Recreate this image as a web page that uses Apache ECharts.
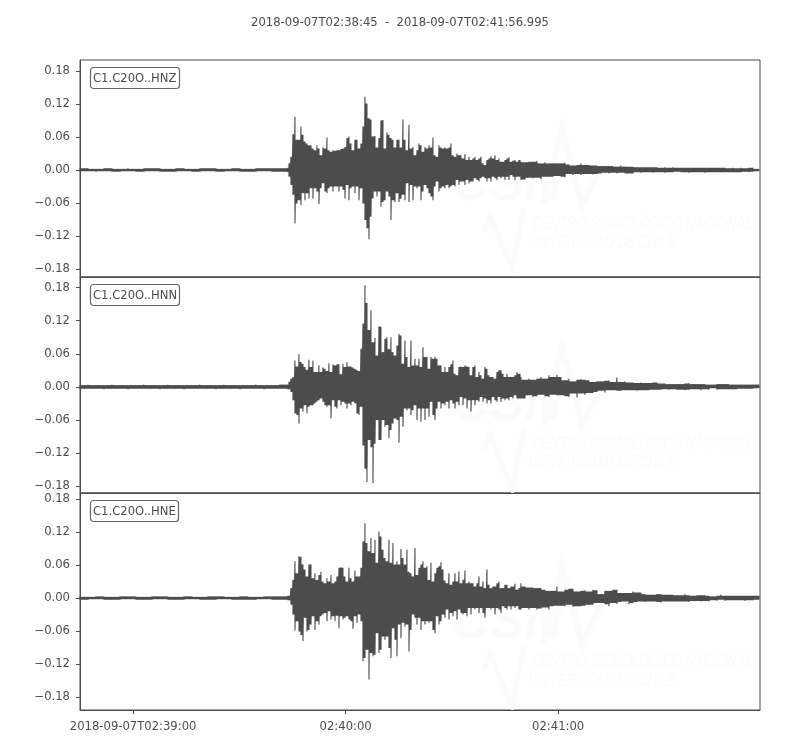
<!DOCTYPE html>
<html>
<head>
<meta charset="utf-8">
<style>html,body{margin:0;padding:0;background:#fff}#c{width:800px;height:750px}</style>
<script src="https://cdn.jsdelivr.net/npm/echarts@6/dist/echarts.min.js"></script>
</head>
<body>
<div id="c"></div>
<script>
// Envelope of each trace in thousandths of the plotted unit
const stations = ['C1.C20O..HNZ', 'C1.C20O..HNN', 'C1.C20O..HNE'];
const titleText = '2018-09-07T02:38:45  -  2018-09-07T02:41:56.995';
const tickSeconds = [15, 75, 135];
const tickLabels = ['2018-09-07T02:39:00', '02:40:00', '02:41:00'];
const yTicks = [-0.18, -0.12, -0.06, 0, 0.06, 0.12, 0.18];
const totalSeconds = 191.995;
const preStep = 2.2586, activeStart = 59.0, activeStep = 0.5647, codaStart = 124.5, codaStep = 1.1293;

const preHiZ = [3,3,2,3,3,2,3,2,3,3,3,2,3,3,2,3,3,3,2,3,3,2,3,3,3,3,4];
const preLoZ = [3,2,3,2,3,3,2,3,3,2,3,3,3,2,3,3,2,3,3,2,3,3,3,2,3,3,4];
const preHiN = [3,4,3,3,4,3,3,3,4,3,3,4,3,3,3,4,3,3,4,3,3,3,4,3,3,4,4];
const preLoN = [4,3,3,4,3,3,4,3,3,3,4,3,3,4,3,3,3,4,3,3,4,3,3,4,3,3,4];
const preHiE = [3,2,3,3,2,3,3,3,2,3,3,3,2,3,3,2,3,3,3,2,3,3,2,3,3,3,4];
const preLoE = [3,3,2,3,3,3,2,3,3,3,2,3,3,3,2,3,3,3,2,3,3,3,3,2,3,3,4];

const activeHiZ = [12,24,65,97,55,55,79,64,52,48,45,45,39,36,45,39,27,41,39,59,36,33,36,35,36,36,38,39,42,58,61,48,36,55,55,39,48,79,133,121,94,92,61,62,41,58,90,91,39,68,64,58,55,41,55,55,41,92,55,36,82,39,42,27,36,48,45,33,42,39,45,41,59,27,24,45,41,39,41,39,41,48,27,24,30,27,27,21,29,18,24,18,21,24,18,21,24,12,9,18,21,25,21,27,18,21,15,15,18,21,23,15,17,18,15,18];
const activeLoZ = [12,27,45,97,61,55,64,42,55,42,52,33,52,33,39,62,33,24,39,42,33,30,39,30,30,39,30,36,52,27,55,33,30,42,30,55,33,61,91,106,126,85,52,39,48,39,67,58,55,39,48,91,55,58,42,58,52,45,55,24,58,27,55,30,33,30,55,39,27,33,42,48,55,30,21,39,33,30,33,27,33,30,27,30,18,27,21,21,27,18,24,21,21,15,18,21,15,12,15,21,15,21,12,15,18,12,15,12,18,12,18,9,12,18,12,12];
const codaHiZ = [15,14,15,15,17,12,14,12,12,12,12,13,10,8,9,12,9,9,8,8,7,7,7,7,6,8,6,6,6,5,5,5,5,5,5,4,5,4,5,4,4,4,4,4,4,4,4,4,4,4,4,4,3,4,3,4,3,4,4,2];
const codaLoZ = [18,17,14,15,14,17,12,12,12,11,12,13,7,9,7,9,7,7,8,7,6,5,6,5,6,5,6,6,6,4,5,4,4,5,4,4,5,4,4,3,4,4,5,4,4,4,5,4,4,4,4,4,4,4,4,4,3,4,3,2];

const activeHiN = [9,15,18,48,37,59,45,42,36,31,49,36,48,27,27,39,27,35,33,29,43,27,41,39,41,41,23,42,36,45,37,37,35,33,31,29,69,115,184,152,103,139,81,89,57,110,109,63,87,90,68,90,63,57,75,96,93,42,84,54,36,84,39,51,39,51,36,72,54,54,33,54,51,54,51,39,39,27,36,27,36,41,48,24,21,36,37,36,39,37,36,21,36,39,18,27,21,15,36,33,21,18,18,15,27,30,30,24,18,24,18,18,18,21,27,24];
const activeLoN = [3,9,24,48,51,66,39,45,33,48,36,33,33,30,27,24,21,27,33,36,33,57,24,36,39,24,33,27,30,39,30,33,27,30,48,51,36,106,148,172,96,109,174,103,60,96,96,60,72,69,93,78,66,57,60,101,54,72,39,42,39,51,42,33,60,39,63,39,60,39,54,27,51,60,39,27,39,30,33,27,39,24,30,39,27,33,18,33,21,39,24,45,24,33,24,27,18,27,21,30,24,30,18,24,27,18,27,21,24,21,24,18,21,15,21,21];
const codaHiN = [18,13,15,13,15,18,15,21,18,22,18,12,15,10,13,14,13,12,9,10,10,11,12,9,17,9,10,8,8,7,8,7,7,8,8,6,6,5,5,5,5,6,7,5,5,5,5,4,4,5,5,5,5,4,4,4,4,4,4,4];
const codaLoN = [21,21,15,18,17,14,17,18,14,15,15,17,18,12,19,12,14,11,11,9,7,10,6,6,7,7,6,6,6,7,6,6,6,5,5,5,4,5,4,5,5,6,5,4,4,6,4,5,2,5,4,4,4,4,4,3,3,3,3,2];

const activeHiE = [3,18,33,67,45,76,75,61,52,39,61,61,36,45,33,42,48,30,27,36,30,42,27,30,39,55,56,55,39,30,55,36,30,50,39,39,55,103,136,100,85,109,82,106,64,121,112,88,73,67,106,64,100,61,67,61,89,73,61,88,48,45,39,91,42,55,61,67,55,58,33,64,30,45,55,58,65,52,32,27,45,24,30,45,30,48,27,33,50,27,30,27,27,21,27,39,21,30,18,52,24,18,21,21,27,30,18,18,24,24,18,21,21,26,15,18];
const activeLoE = [3,12,30,59,42,61,67,78,36,61,58,48,33,58,42,48,33,30,27,42,24,39,33,42,32,55,33,39,36,33,39,42,56,33,45,30,42,115,109,94,148,100,106,103,64,100,94,70,76,70,91,109,55,76,106,48,73,45,52,48,97,58,30,36,48,36,58,42,48,42,45,42,58,64,33,48,42,30,36,21,39,27,33,24,39,21,27,30,27,33,18,30,18,21,18,27,18,27,36,18,18,21,18,30,18,21,27,15,18,21,15,21,15,18,15,21];
const codaHiE = [27,21,19,19,18,18,15,13,13,21,12,15,17,17,12,13,14,12,15,14,7,13,13,15,15,9,9,9,12,10,10,7,6,6,7,7,6,6,6,5,5,7,5,4,5,5,5,4,3,4,6,4,4,4,4,4,4,4,4,4];
const codaLoE = [21,18,21,18,21,19,17,21,15,14,14,15,12,16,15,15,14,12,12,9,9,11,15,9,11,7,6,11,9,7,6,7,6,6,7,8,6,6,6,6,6,6,7,5,5,6,5,6,4,5,3,5,4,4,4,4,5,4,4,3];

const preHi = [preHiZ, preHiN, preHiE], preLo = [preLoZ, preLoN, preLoE];
const activeHi = [activeHiZ, activeHiN, activeHiE], activeLo = [activeLoZ, activeLoN, activeLoE];
const codaHi = [codaHiZ, codaHiN, codaHiE], codaLo = [codaLoZ, codaLoN, codaLoE];

const yMins = [-0.1945, -0.192, -0.2036];
const yMaxs = [0.2, 0.199, 0.191];
const gridTops = [60, 277, 493];
const gridHeights = [217, 216, 217];
const markOffsets = [0, 220, 438];

const ink = '#4c4c4c';
const font = 'DejaVu Sans';
const labelSize = 11.6;

// One true stroke per reading; the rest of the bin is closed up to the lower neighbour
function segment(pts, hi, lo, start, step, strokes) {
  hi.forEach((h, k) => {
    const hn = k + 1 < hi.length ? hi[k + 1] : h;
    const ln = k + 1 < lo.length ? lo[k + 1] : lo[k];
    for (let s = 0; s < strokes; s++) {
      const t = start + (k + s / strokes) * step;
      if (t > totalSeconds - 0.1) return;
      const a = s === 0 ? h : Math.min(h, hn);
      const b = s === 0 ? lo[k] : Math.min(lo[k], ln);
      pts.push([t, a / 1000], [t, -b / 1000]);
    }
  });
}

function trace(i) {
  const pts = [];
  segment(pts, preHi[i], preLo[i], 0, preStep, 8);
  segment(pts, activeHi[i], activeLo[i], activeStart, activeStep, 2);
  segment(pts, codaHi[i], codaLo[i], codaStart, codaStep, 4);
  return pts;
}

function watermark(off) {
  const c = '#fbfbfb';
  const narrow = 'italic 18px "Liberation Sans"';
  return [
    { type: 'text', silent: true, z: 0, style: { x: 452, y: 160 + off, text: 'CSN', fill: c, font: 'italic bold 52px "Liberation Sans"' } },
    { type: 'polyline', silent: true, z: 0, shape: { points: [[543, 205 + off], [562, 128 + off], [582, 205 + off], [602, 165 + off]] }, style: { stroke: c, lineWidth: 6, fill: null } },
    { type: 'polyline', silent: true, z: 0, shape: { points: [[484, 232 + off], [490, 215 + off], [500, 240 + off], [512, 268 + off], [524, 208 + off]] }, style: { stroke: c, lineWidth: 5, fill: null } },
    { type: 'text', silent: true, z: 0, x: 532, y: 215 + off, scaleX: 0.72, style: { x: 0, y: 0, text: 'CENTRO SISMOLÓGICO NACIONAL', fill: c, font: narrow } },
    { type: 'text', silent: true, z: 0, x: 528, y: 234 + off, scaleX: 0.7, style: { x: 0, y: 0, text: 'UNIVERSIDAD DE CHILE', fill: c, font: narrow } }
  ];
}

const option = {
  animation: false,
  backgroundColor: '#fff',
  textStyle: { fontFamily: font, color: ink },
  title: [{
    text: titleText, left: 395, top: 12, textAlign: 'center',
    textStyle: { fontFamily: font, fontSize: labelSize, fontWeight: 'normal', color: ink }
  }].concat(stations.map((s, i) => ({
    text: s, left: 90, top: gridTops[i] + 7, padding: [5, 3, 3, 3],
    borderColor: '#666', borderWidth: 1.2, borderRadius: 3, backgroundColor: '#fff',
    textStyle: { fontFamily: font, fontSize: labelSize, fontWeight: 'normal', color: ink, lineHeight: 14 }
  }))),
  graphic: [].concat(...markOffsets.map(watermark)),
  grid: gridTops.map((t, i) => ({
    left: 80, width: 680, top: t, height: gridHeights[i],
    show: true, borderColor: ink, borderWidth: 1, backgroundColor: 'transparent'
  })),
  xAxis: stations.map((s, i) => ({
    type: 'value', gridIndex: i, min: 0, max: totalSeconds,
    splitLine: { show: false },
    axisLine: { show: true, onZero: false, lineStyle: { color: ink, width: 1 } },
    axisTick: { show: i === 2, length: 4, lineStyle: { color: ink, width: 1 }, customValues: tickSeconds },
    axisLabel: {
      show: i === 2, color: ink, fontFamily: font, fontSize: labelSize, margin: 11,
      customValues: tickSeconds,
      formatter: v => tickLabels[tickSeconds.indexOf(v)] || ''
    }
  })),
  yAxis: stations.map((s, i) => ({
    type: 'value', gridIndex: i, min: yMins[i], max: yMaxs[i],
    splitLine: { show: false },
    axisLine: { show: true, onZero: false, lineStyle: { color: ink, width: 1 } },
    axisTick: { show: true, length: 4, lineStyle: { color: ink, width: 1 }, customValues: yTicks },
    axisLabel: {
      color: ink, fontFamily: font, fontSize: labelSize, margin: 10, padding: [4, 0, 0, 0],
      customValues: yTicks,
      formatter: v => (v < 0 ? '\u2212' : '') + Math.abs(v).toFixed(2)
    }
  })),
  series: stations.map((s, i) => ({
    type: 'line', name: s, xAxisIndex: i, yAxisIndex: i, data: trace(i),
    showSymbol: false, symbol: 'none', sampling: 'none', smooth: false, clip: true, z: 3,
    lineStyle: { color: ink, width: 1.1, join: 'bevel' }
  }))
};
const chart = echarts.init(document.getElementById('c'), null, { renderer: 'canvas' });
chart.setOption(option);
</script>
</body>
</html>
